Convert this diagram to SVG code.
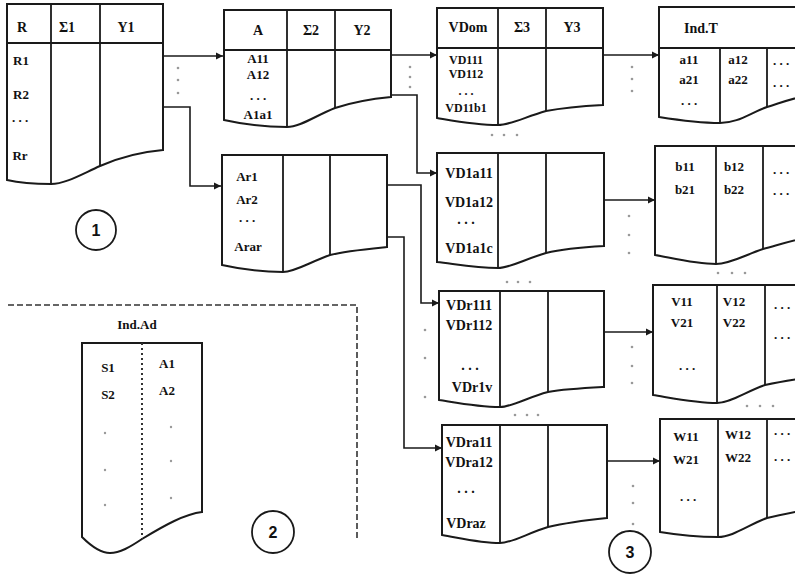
<svg xmlns="http://www.w3.org/2000/svg" width="795" height="577" viewBox="0 0 795 577">
<defs>
<marker id="ah" markerUnits="userSpaceOnUse" markerWidth="8" markerHeight="8" refX="7" refY="4" orient="auto">
<path d="M0,0.5 L7,4 L0,7.5 Z" fill="#1a1a1a"/>
</marker>
</defs>
<style>
.tb{fill:#fff;stroke:#1a1a1a;stroke-width:2}
.ln{stroke:#1a1a1a;stroke-width:1.8;fill:none}
.cn{stroke:#1a1a1a;stroke-width:1.6;fill:none;marker-end:url(#ah)}
.t{font-family:"Liberation Serif",serif;font-size:13px;font-weight:bold;fill:#111;text-anchor:middle}
.ts{font-family:"Liberation Serif",serif;font-size:12px;font-weight:bold;fill:#111;text-anchor:middle}
.tl{font-family:"Liberation Serif",serif;font-size:14px;font-weight:bold;fill:#111;text-anchor:middle}
.h{font-family:"Liberation Serif",serif;font-size:14px;font-weight:bold;fill:#111;text-anchor:middle}
.d{fill:#999}
.num{font-family:"Liberation Sans",sans-serif;font-size:16px;font-weight:bold;fill:#111;text-anchor:middle}
.circ{fill:#fff;stroke:#1a1a1a;stroke-width:1.8}
</style>
<rect width="795" height="577" fill="#fff"/>

<g id="table-R">
<path class="tb" d="M7,4 H163 V150 C140,152 118,158 100,166 C80,175 65,184 51,184 C35,184 20,183 7,180 Z"/>
<path class="ln" d="M7,43 H163 M51,4 V184 M100,4 V166"/>
<text class="h" x="22" y="32">R</text>
<text class="h" x="67" y="32">Σ1</text>
<text class="h" x="126" y="32">Y1</text>
<text class="t" x="21" y="65">R1</text>
<text class="t" x="21" y="99">R2</text>
<text class="t" x="20" y="122">. . .</text>
<text class="t" x="20" y="160">Rr</text>
</g>

<g id="table-A">
<path class="tb" d="M224,10 H391 V97 C370,99 350,103 335,108 C315,116 300,127 287,127 C265,127 242,124 224,120 Z"/>
<path class="ln" d="M224,50 H391 M287,10 V127 M335,10 V108"/>
<text class="h" x="258" y="35">A</text>
<text class="h" x="311" y="35">Σ2</text>
<text class="h" x="362" y="35">Y2</text>
<text class="t" x="258" y="63">A11</text>
<text class="t" x="258" y="79">A12</text>
<text class="t" x="258" y="100">. . .</text>
<text class="t" x="258" y="119">A1a1</text>
</g>

<g id="table-Ar">
<path class="tb" d="M222,155 H387 V247 C367,249 345,251 330,255 C310,262 295,272 283,272 C262,272 240,269 222,265 Z"/>
<path class="ln" d="M283,155 V272 M330,155 V255"/>
<text class="t" x="247" y="181">Ar1</text>
<text class="t" x="247" y="204">Ar2</text>
<text class="t" x="247" y="222">. . .</text>
<text class="t" x="248" y="251">Arar</text>
</g>

<g id="table-VDom">
<path class="tb" d="M437,8 H603 V105 C585,106 562,108 546,111 C525,117 510,125 498,125 C476,125 455,121 437,118 Z"/>
<path class="ln" d="M437,48 H603 M498,8 V125 M546,8 V111"/>
<text class="h" x="468" y="32">VDom</text>
<text class="h" x="522" y="32">Σ3</text>
<text class="h" x="572" y="32">Y3</text>
<text class="ts" x="466" y="64">VD111</text>
<text class="ts" x="466" y="78">VD112</text>
<text class="ts" x="466" y="95">. . .</text>
<text class="ts" x="466" y="112">VD11b1</text>
</g>

<g id="table-VD1a">
<path class="tb" d="M437,153 H604 V246 C585,247 562,249 546,253 C525,259 510,268 498,268 C475,268 455,264 437,262 Z"/>
<path class="ln" d="M498,153 V268 M546,153 V253"/>
<text class="tl" x="469" y="178">VD1a11</text>
<text class="tl" x="469" y="207">VD1a12</text>
<text class="tl" x="466" y="224">. . .</text>
<text class="tl" x="469" y="253">VD1a1c</text>
</g>

<g id="table-VDr1">
<path class="tb" d="M439,291 H604 V387 C585,388 565,389 548,392 C528,397 512,407 500,407 C478,407 458,403 439,400 Z"/>
<path class="ln" d="M500,291 V407 M548,291 V392"/>
<text class="tl" x="469" y="310">VDr111</text>
<text class="tl" x="469" y="330">VDr112</text>
<text class="tl" x="470" y="370">. . .</text>
<text class="tl" x="472" y="392">VDr1v</text>
</g>

<g id="table-VDra">
<path class="tb" d="M442,425 H607 V518 C588,520 565,523 548,527 C528,533 512,543 500,543 C480,543 460,538 442,535 Z"/>
<path class="ln" d="M500,425 V543 M548,425 V527"/>
<text class="tl" x="469" y="447">VDra11</text>
<text class="tl" x="469" y="467">VDra12</text>
<text class="tl" x="466" y="493">. . .</text>
<text class="tl" x="466" y="528">VDraz</text>
</g>

<g id="table-T">
<path class="tb" d="M659,7 H805 V96 C790,99 780,103 767,107 C750,113 738,123 720,123 C700,123 678,120 659,117 Z"/>
<path class="ln" d="M659,48 H805 M720,48 V123 M767,48 V107"/>
<text class="h" x="701" y="33">Ind.T</text>
<text class="t" x="689" y="64">a11</text>
<text class="t" x="689" y="84">a21</text>
<text class="t" x="689" y="105">. . .</text>
<text class="t" x="738" y="64">a12</text>
<text class="t" x="738" y="84">a22</text>
<text class="t" x="781" y="65">. . .</text>
<text class="t" x="781" y="87">. . .</text>
</g>

<g id="table-b">
<path class="tb" d="M655,146 H805 V238 C790,241 778,245 763,249 C745,255 730,264 716,264 C695,264 672,258 655,255 Z"/>
<path class="ln" d="M716,146 V264 M763,146 V249"/>
<text class="t" x="685" y="171">b11</text>
<text class="t" x="685" y="194">b21</text>
<text class="t" x="734" y="171">b12</text>
<text class="t" x="734" y="194">b22</text>
<text class="t" x="781" y="174">. . .</text>
<text class="t" x="781" y="195">. . .</text>
</g>

<g id="table-V">
<path class="tb" d="M653,285 H805 V378 C790,380 778,382 765,385 C745,392 730,403 717,403 C697,403 672,398 653,395 Z"/>
<path class="ln" d="M717,285 V403 M765,285 V385"/>
<text class="t" x="682" y="306">V11</text>
<text class="t" x="682" y="327">V21</text>
<text class="t" x="687" y="370">. . .</text>
<text class="t" x="734" y="306">V12</text>
<text class="t" x="734" y="327">V22</text>
<text class="t" x="782" y="309">. . .</text>
<text class="t" x="782" y="339">. . .</text>
</g>

<g id="table-W">
<path class="tb" d="M660,419 H805 V510 C790,513 780,515 767,518 C748,525 733,537 718,537 C698,537 678,535 660,532 Z"/>
<path class="ln" d="M718,419 V537 M767,419 V518"/>
<text class="t" x="686" y="441">W11</text>
<text class="t" x="686" y="464">W21</text>
<text class="t" x="688" y="501">. . .</text>
<text class="t" x="738" y="439">W12</text>
<text class="t" x="738" y="462">W22</text>
<text class="t" x="782" y="435">. . .</text>
<text class="t" x="782" y="461">. . .</text>
</g>

<g id="region-2">
<path d="M8,305 H357 V538" fill="none" stroke="#333" stroke-width="1.6" stroke-dasharray="6,3"/>
<text class="t" x="137" y="329">Ind.Ad</text>
<path class="tb" d="M82,343 H202 V512 C185,514 165,525 142,539 C130,547 120,553 110,553 C100,553 90,545 82,537 Z"/>
<path d="M142,343 V539" fill="none" stroke="#333" stroke-width="2" stroke-dasharray="2,3"/>
<text class="t" x="108" y="372">S1</text>
<text class="t" x="108" y="399">S2</text>
<text class="t" x="167" y="368">A1</text>
<text class="t" x="167" y="395">A2</text>
<circle class="d" cx="105" cy="433" r="1.2"/>
<circle class="d" cx="105" cy="470" r="1.2"/>
<circle class="d" cx="105" cy="505" r="1.2"/>
<circle class="d" cx="171" cy="427" r="1.2"/>
<circle class="d" cx="171" cy="461" r="1.2"/>
<circle class="d" cx="171" cy="498" r="1.2"/>
</g>

<g id="circle-1">
<circle class="circ" cx="96" cy="230" r="20"/>
<text class="num" x="96" y="236">1</text>
</g>
<g id="circle-2">
<circle class="circ" cx="273" cy="532" r="21"/>
<text class="num" x="273" y="538">2</text>
</g>
<g id="circle-3">
<circle class="circ" cx="630" cy="552" r="21"/>
<text class="num" x="630" y="558">3</text>
</g>

<g id="connectors">
<path class="cn" d="M163,56 H223"/>
<path class="cn" d="M163,107 H190 V186 H221"/>
<path class="cn" d="M391,55 H437"/>
<path class="cn" d="M391,95 H417 V173 H437"/>
<path class="cn" d="M387,185 H421 V303 H439"/>
<path class="cn" d="M387,237 H404 V448 H442"/>
<path class="cn" d="M603,55 H659"/>
<path class="cn" d="M604,200 H655"/>
<path class="cn" d="M604,332 H653"/>
<path class="cn" d="M607,461 H660"/>
</g>

<g id="ellipsis-dots" fill="#999">
<circle cx="178" cy="68" r="1.3"/><circle cx="178" cy="80" r="1.3"/><circle cx="178" cy="93" r="1.3"/>
<circle cx="410" cy="67" r="1.3"/><circle cx="410" cy="77" r="1.3"/><circle cx="410" cy="87" r="1.3"/>
<circle cx="632" cy="67" r="1.3"/><circle cx="632" cy="79" r="1.3"/><circle cx="632" cy="91" r="1.3"/>
<circle cx="629" cy="216" r="1.3"/><circle cx="629" cy="235" r="1.3"/><circle cx="629" cy="253" r="1.3"/>
<circle cx="632" cy="347" r="1.3"/><circle cx="632" cy="366" r="1.3"/><circle cx="632" cy="383" r="1.3"/>
<circle cx="633" cy="486" r="1.3"/><circle cx="633" cy="503" r="1.3"/><circle cx="633" cy="524" r="1.3"/>
<circle cx="425" cy="330" r="1.3"/><circle cx="425" cy="358" r="1.3"/><circle cx="425" cy="397" r="1.3"/>
<circle cx="492" cy="135" r="1.3"/><circle cx="504" cy="135" r="1.3"/><circle cx="517" cy="135" r="1.3"/>
<circle cx="507" cy="282" r="1.3"/><circle cx="518" cy="282" r="1.3"/><circle cx="530" cy="282" r="1.3"/>
<circle cx="515" cy="415" r="1.3"/><circle cx="527" cy="415" r="1.3"/><circle cx="538" cy="415" r="1.3"/>
<circle cx="718" cy="273" r="1.3"/><circle cx="732" cy="273" r="1.3"/><circle cx="745" cy="273" r="1.3"/>
<circle cx="747" cy="406" r="1.3"/><circle cx="760" cy="406" r="1.3"/><circle cx="773" cy="406" r="1.3"/>
</g>
</svg>
